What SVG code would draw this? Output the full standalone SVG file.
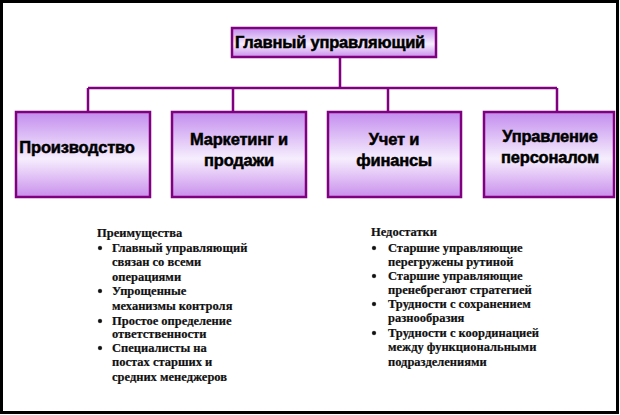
<svg xmlns="http://www.w3.org/2000/svg" width="620" height="415" viewBox="0 0 620 415">
<defs>
<linearGradient id="g" x1="0" y1="0" x2="0" y2="1">
<stop offset="0" stop-color="#c38cee"/>
<stop offset="0.55" stop-color="#f6eefd"/>
<stop offset="1" stop-color="#c98fec"/>
</linearGradient>
<style>
.box{fill:url(#g);stroke:#800080;stroke-width:2.5}
.bt{font-family:"Liberation Sans",Arial,sans-serif;font-weight:bold;font-size:16.5px;fill:#000;stroke:#000;stroke-width:0.5px;text-anchor:middle;letter-spacing:-0.2px}
.conn{fill:none;stroke:#800080;stroke-width:2.5}
.lt{font-family:"Liberation Serif","Times New Roman",serif;font-weight:bold;font-size:12.5px;fill:#111;stroke:#111;stroke-width:0.2px}
.bul{fill:#111}
</style>
</defs>
<rect x="0" y="0" width="620" height="415" fill="#fff"/>
<rect x="1.5" y="1.5" width="616" height="411" fill="none" stroke="#000" stroke-width="3"/>
<g id="connectors">
<path class="conn" d="M340 58V88M88 88H557M88 88V112M233 88V112M388 88V112M557 88V112"/>
</g>
<g id="n-top">
<rect class="box" x="232" y="28" width="204" height="29"/>
<text class="bt" x="330" y="48">Главный управляющий</text>
</g>
<g id="n-prod">
<rect class="box" x="16" y="112" width="134" height="85"/>
<text class="bt" x="77" y="153">Производство</text>
</g>
<g id="n-mark">
<rect class="box" x="172" y="112" width="134" height="85"/>
<text class="bt" x="239" y="145">Маркетинг и</text>
<text class="bt" x="239" y="166">продажи</text>
</g>
<g id="n-fin">
<rect class="box" x="328" y="112" width="133" height="85"/>
<text class="bt" x="394" y="145">Учет и</text>
<text class="bt" x="394" y="166">финансы</text>
</g>
<g id="n-hr">
<rect class="box" x="484" y="112" width="130" height="85"/>
<text class="bt" x="550" y="142">Управление</text>
<text class="bt" x="550" y="163">персоналом</text>
</g>
<g id="advantages" class="lt">
<text x="97" y="237">Преимущества</text>
<circle class="bul" cx="100" cy="248" r="2"/>
<text x="112" y="252">Главный управляющий</text>
<text x="112" y="266">связан со всеми</text>
<text x="112" y="281">операциями</text>
<circle class="bul" cx="100" cy="291" r="2"/>
<text x="112" y="295">Упрощенные</text>
<text x="112" y="310">механизмы контроля</text>
<circle class="bul" cx="100" cy="321" r="2"/>
<text x="112" y="325">Простое определение</text>
<text x="112" y="338">ответственности</text>
<circle class="bul" cx="100" cy="348" r="2"/>
<text x="112" y="352">Специалисты на</text>
<text x="112" y="366">постах старших и</text>
<text x="112" y="381">средних менеджеров</text>
</g>
<g id="disadvantages" class="lt">
<text x="371" y="236">Недостатки</text>
<circle class="bul" cx="374" cy="248" r="2"/>
<text x="388" y="252">Старшие управляющие</text>
<text x="388" y="266">перегружены рутиной</text>
<circle class="bul" cx="374" cy="276" r="2"/>
<text x="388" y="280">Старшие управляющие</text>
<text x="388" y="294">пренебрегают стратегией</text>
<circle class="bul" cx="374" cy="304" r="2"/>
<text x="388" y="308">Трудности с сохранением</text>
<text x="388" y="322">разнообразия</text>
<circle class="bul" cx="374" cy="333" r="2"/>
<text x="388" y="337">Трудности с координацией</text>
<text x="388" y="351">между функциональными</text>
<text x="388" y="366">подразделениями</text>
</g>
</svg>
